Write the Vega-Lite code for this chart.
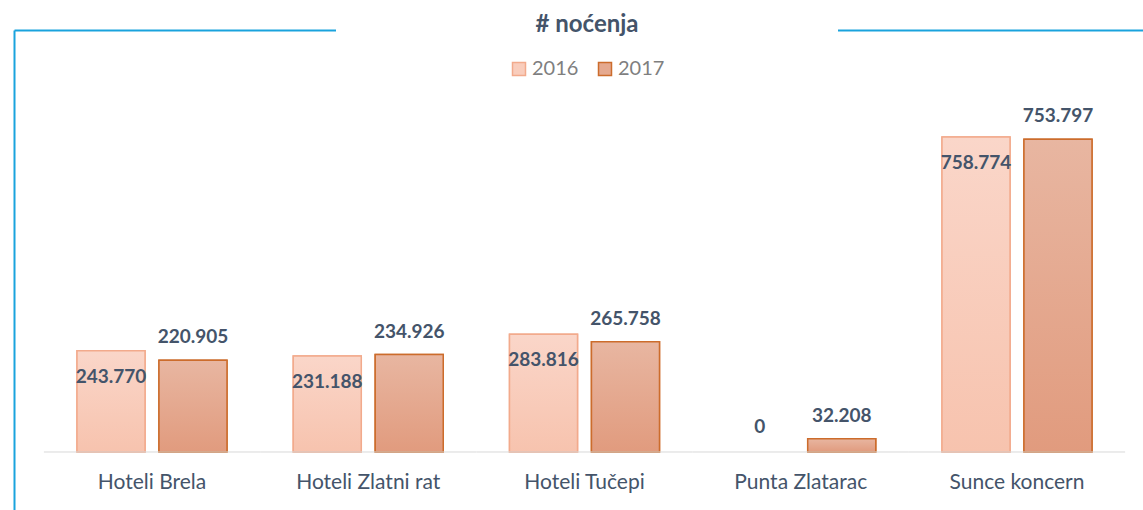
{
  "$schema": "https://vega.github.io/schema/vega-lite/v6.json",
  "width": 1129,
  "height": 480,
  "autosize": {"type": "none"},
  "padding": {"left": 14, "top": 30, "right": 0, "bottom": 0},
  "background": "white",
  "config": {
    "view": {"stroke": null},
    "font": "Lato",
    "locale": {"number": {"decimal": ",", "thousands": ".", "grouping": [3], "currency": ["", " kn"]}}
  },
  "data": {
    "values": [
      {"hotel": "Hoteli Brela", "year": "2016", "value": 243770},
      {"hotel": "Hoteli Brela", "year": "2017", "value": 220905},
      {"hotel": "Hoteli Zlatni rat", "year": "2016", "value": 231188},
      {"hotel": "Hoteli Zlatni rat", "year": "2017", "value": 234926},
      {"hotel": "Hoteli Tučepi", "year": "2016", "value": 283816},
      {"hotel": "Hoteli Tučepi", "year": "2017", "value": 265758},
      {"hotel": "Punta Zlatarac", "year": "2016", "value": 0},
      {"hotel": "Punta Zlatarac", "year": "2017", "value": 32208},
      {"hotel": "Sunce koncern", "year": "2016", "value": 758774},
      {"hotel": "Sunce koncern", "year": "2017", "value": 753797}
    ]
  },
  "layer": [
    {
      "transform": [{"filter": "datum.value > 0"}],
      "mark": {"type": "bar", "strokeWidth": 1.5},
      "encoding": {
        "x": {
          "field": "hotel", "type": "nominal", "sort": null,
          "scale": {"domain": ["Hoteli Brela", "Hoteli Zlatni rat", "Hoteli Tučepi", "Punta Zlatarac", "Sunce koncern"], "paddingInner": 0.3064, "paddingOuter": 0.2636, "align": 0.5526},
          "axis": {"orient": "top", "domain": true, "domainColor": "#1AA3DD", "domainWidth": 2, "labels": false, "ticks": false, "title": null, "grid": false}
        },
        "xOffset": {"field": "year", "type": "nominal", "scale": {"domain": ["2016", "2017"], "paddingInner": 0.17, "paddingOuter": 0}},
        "y": {
          "field": "value", "type": "quantitative",
          "scale": {"domain": [-139760, 1016870], "nice": false, "zero": false},
          "axis": {"domain": true, "domainColor": "#1AA3DD", "domainWidth": 2, "labels": false, "ticks": false, "title": null, "grid": false}
        },
        "y2": {"datum": 0},
        "fill": {
          "field": "year", "type": "nominal",
          "scale": {"domain": ["2016", "2017"], "range": ["#F9CDBC", "#E5A98F"]},
          "legend": {"title": "# noćenja", "orient": "none", "legendX": 322, "legendY": -190, "direction": "horizontal", "titleAnchor": "middle", "titleFont": "Lato", "titleFontSize": 24, "titleFontWeight": "bold", "titleColor": "#44546A", "titlePadding": 22, "labelFont": "Lato", "labelFontSize": 20, "labelColor": "#7F7F7F", "labelOffset": 3, "symbolType": "square", "symbolSize": 169, "symbolStrokeWidth": 1.5, "columnPadding": 16, "padding": 173, "fillColor": "white", "zindex": 1}
        },
        "stroke": {
          "field": "year", "type": "nominal",
          "scale": {"domain": ["2016", "2017"], "range": ["#F2AA8C", "#CC6C2C"]},
          "legend": {"title": "# noćenja", "orient": "none", "legendX": 322, "legendY": -190, "direction": "horizontal", "titleAnchor": "middle", "titleFont": "Lato", "titleFontSize": 24, "titleFontWeight": "bold", "titleColor": "#44546A", "titlePadding": 22, "labelFont": "Lato", "labelFontSize": 20, "labelColor": "#7F7F7F", "labelOffset": 3, "symbolType": "square", "symbolSize": 169, "symbolStrokeWidth": 1.5, "columnPadding": 16, "padding": 173, "fillColor": "white", "zindex": 1}
        }
      }
    },
    {
      "transform": [{"filter": "datum.year == '2016' && datum.value > 0"}],
      "mark": {"type": "bar", "strokeWidth": 1.5, "stroke": "#F2AA8C",
        "fill": {"gradient": "linear", "x1": 0, "y1": 0, "x2": 0, "y2": 1, "stops": [{"offset": 0, "color": "#FAD6C9"}, {"offset": 1, "color": "#F7C3AE"}]}},
      "encoding": {
        "x": {"field": "hotel", "type": "nominal", "sort": null},
        "xOffset": {"field": "year", "type": "nominal"},
        "y": {"field": "value", "type": "quantitative"},
        "y2": {"datum": 0}
      }
    },
    {
      "transform": [{"filter": "datum.year == '2017' && datum.value > 0"}],
      "mark": {"type": "bar", "strokeWidth": 1.5, "stroke": "#CC6C2C",
        "fill": {"gradient": "linear", "x1": 0, "y1": 0, "x2": 0, "y2": 1, "stops": [{"offset": 0, "color": "#E8B6A1"}, {"offset": 1, "color": "#E19B7E"}]}},
      "encoding": {
        "x": {"field": "hotel", "type": "nominal", "sort": null},
        "xOffset": {"field": "year", "type": "nominal"},
        "y": {"field": "value", "type": "quantitative"},
        "y2": {"datum": 0}
      }
    },
    {
      "transform": [{"filter": "datum.year == '2017'"}],
      "mark": {"type": "rule", "color": "#D9D9D9", "strokeWidth": 1},
      "encoding": {
        "x": {"field": "hotel", "type": "nominal", "sort": null, "bandPosition": -0.2208},
        "x2": {"field": "hotel", "bandPosition": 1.2208},
        "y": {"datum": 0, "type": "quantitative"}
      }
    },
    {
      "transform": [{"filter": "datum.year == '2017'"}],
      "mark": {"type": "text", "dy": -23, "baseline": "middle", "align": "center", "font": "Lato", "fontSize": 19, "fontWeight": "bold", "color": "#44546A"},
      "encoding": {
        "x": {"field": "hotel", "type": "nominal", "sort": null},
        "xOffset": {"field": "year", "type": "nominal"},
        "y": {"field": "value", "type": "quantitative"},
        "text": {"field": "value", "type": "quantitative", "format": ",d"}
      }
    },
    {
      "transform": [{"filter": "datum.year == '2016' && datum.value > 0"}],
      "mark": {"type": "text", "dy": 26, "baseline": "middle", "align": "center", "font": "Lato", "fontSize": 19, "fontWeight": "bold", "color": "#44546A"},
      "encoding": {
        "x": {"field": "hotel", "type": "nominal", "sort": null},
        "xOffset": {"field": "year", "type": "nominal"},
        "y": {"field": "value", "type": "quantitative"},
        "text": {"field": "value", "type": "quantitative", "format": ",d"}
      }
    },
    {
      "transform": [{"filter": "datum.year == '2016' && datum.value == 0"}],
      "mark": {"type": "text", "dy": -25, "baseline": "middle", "align": "center", "font": "Lato", "fontSize": 19, "fontWeight": "bold", "color": "#44546A"},
      "encoding": {
        "x": {"field": "hotel", "type": "nominal", "sort": null},
        "xOffset": {"field": "year", "type": "nominal"},
        "y": {"field": "value", "type": "quantitative"},
        "text": {"field": "value", "type": "quantitative", "format": ",d"}
      }
    },
    {
      "transform": [{"filter": "datum.year == '2017'"}],
      "mark": {"type": "text", "dy": 31, "baseline": "middle", "align": "center", "font": "Lato", "fontSize": 21, "color": "#44546A"},
      "encoding": {
        "x": {"field": "hotel", "type": "nominal", "sort": null},
        "y": {"datum": 0, "type": "quantitative"},
        "text": {"field": "hotel", "type": "nominal"}
      }
    }
  ]
}
